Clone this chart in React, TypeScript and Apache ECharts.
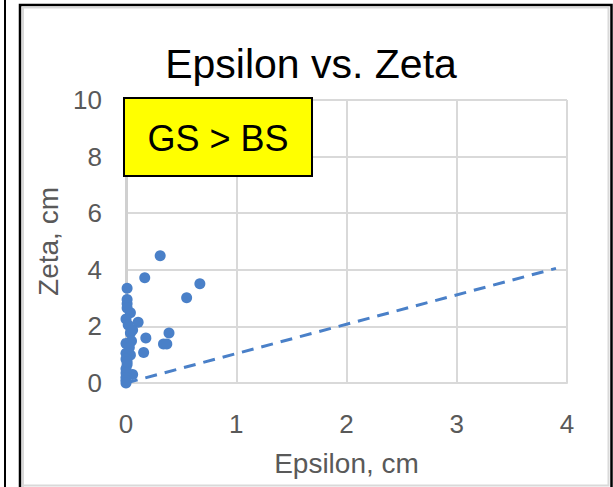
import React, { useEffect, useRef } from "react";
import * as echarts from "echarts";

const epsilon = [
  0.31, 0.17, 0.67, 0.55, 0.01, 0.01, 0.01, 0.01, 0.04, 0.0, 0.11, 0.02,
  0.04, 0.39, 0.18, 0.34, 0.37, 0.05, 0.0, 0.16, 0.04, 0.0, 0.0, 0.01,
  0.0, 0.06, 0.0, 0.0, 0.0, 0.0, 0.03, 0.01, 0.06,
];
const zeta = [
  4.5, 3.72, 3.51, 3.01, 3.35, 2.95, 2.8, 2.65, 2.48, 2.26, 2.15, 2.05,
  1.77, 1.77, 1.59, 1.38, 1.38, 1.48, 1.4, 1.08, 0.99, 1.05, 0.85, 0.65,
  0.5, 0.3, 0.35, 0.2, 0.1, 0.0, 1.25, 0.75, 1.87,
];
const trendX = [0, 3.9];
const trendY = [0.0, 4.05];
const xTicks = [0, 1, 2, 3, 4];
const yTicks = [0, 2, 4, 6, 8, 10];

const BLUE = "#4a80c8";
const GRAY_TEXT = "#595959";
const FONT = "'Liberation Sans', Arial, sans-serif";

export default function App() {
  const ref = useRef<HTMLDivElement>(null);
  useEffect(() => {
    if (!ref.current) return;
    const chart = echarts.init(ref.current, undefined, { renderer: "svg" });
    const points = epsilon.map((x, i) => [x, zeta[i]]);
    const trend = trendX.map((x, i) => [x, trendY[i]]);
    chart.setOption({
      animation: false,
      backgroundColor: "#ffffff",
      grid: {
        left: 126,
        right: 46,
        top: 100,
        bottom: 104,
        containLabel: false,
        outerBoundsMode: "none",
      },
      xAxis: {
        type: "value",
        min: xTicks[0],
        max: xTicks[xTicks.length - 1],
        interval: 1,
        name: "Epsilon, cm",
        nameLocation: "middle",
        nameGap: 66,
        nameTextStyle: { color: GRAY_TEXT, fontSize: 28, fontFamily: FONT },
        axisLine: { show: true, lineStyle: { color: "#d9d9d9", width: 2 } },
        axisTick: { show: false },
        axisLabel: { color: GRAY_TEXT, fontSize: 26, fontFamily: FONT, margin: 28 },
        splitLine: { show: true, lineStyle: { color: "#d9d9d9", width: 2 } },
      },
      yAxis: {
        type: "value",
        min: yTicks[0],
        max: yTicks[yTicks.length - 1],
        interval: 2,
        name: "Zeta, cm",
        nameLocation: "middle",
        nameGap: 62,
        nameTextStyle: { color: GRAY_TEXT, fontSize: 28, fontFamily: FONT },
        axisLine: { show: true, lineStyle: { color: "#d0d0d0", width: 3 } },
        axisTick: { show: false },
        axisLabel: { color: GRAY_TEXT, fontSize: 26, fontFamily: FONT, margin: 24 },
        splitLine: { show: true, lineStyle: { color: "#d9d9d9", width: 2 } },
      },
      series: [
        {
          type: "line",
          data: trend,
          showSymbol: false,
          symbol: "none",
          lineStyle: { color: BLUE, width: 3, type: [12, 8] },
          z: 2,
        },
        {
          type: "scatter",
          data: points,
          symbolSize: 11,
          itemStyle: { color: BLUE, opacity: 1 },
          z: 3,
        },
      ],
      graphic: [
        { type: "line", shape: { x1: 5, y1: 0, x2: 5, y2: 487 }, style: { stroke: "#000", lineWidth: 2 } },
        {
          type: "polyline",
          shape: { points: [[20, 487], [20, 5], [611.5, 5], [611.5, 487]] },
          style: { stroke: "#000", lineWidth: 2.5, fill: null },
        },
        {
          type: "polyline",
          shape: { points: [[23, 487], [23, 7.5], [608.5, 7.5], [608.5, 485.5], [23, 485.5]] },
          style: { stroke: "#d9d9d9", lineWidth: 2, fill: null },
        },
        {
          type: "text",
          x: 311,
          y: 64,
          style: {
            text: "Epsilon vs. Zeta",
            fill: "#000",
            fontSize: 41,
            fontFamily: FONT,
            align: "center",
            verticalAlign: "middle",
          },
        },
        {
          type: "rect",
          shape: { x: 124, y: 98, width: 188, height: 78 },
          style: { fill: "#ffff00", stroke: "#000", lineWidth: 2 },
          z: 10,
        },
        {
          type: "text",
          x: 218,
          y: 138,
          z: 11,
          style: {
            text: "GS > BS",
            fill: "#000",
            fontSize: 36,
            fontFamily: FONT,
            align: "center",
            verticalAlign: "middle",
          },
        },
      ],
    });
    return () => chart.dispose();
  }, []);
  return (
    <div
      ref={ref}
      style={{ position: "absolute", left: 0, top: 0, width: 613, height: 487 }}
    />
  );
}
